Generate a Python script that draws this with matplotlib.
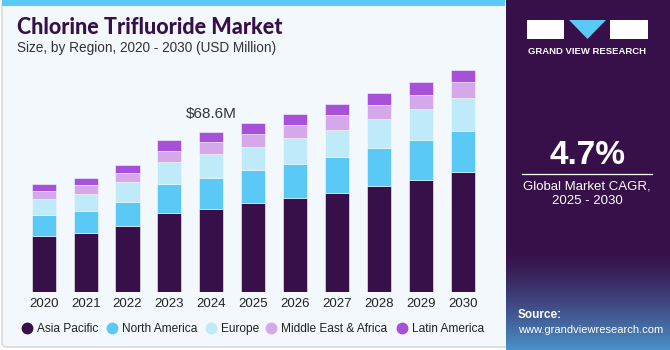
import numpy as np
import matplotlib.pyplot as plt
from matplotlib.patches import FancyBboxPatch, Rectangle, Polygon
from matplotlib.lines import Line2D

years = ['2020', '2021', '2022', '2023', '2024', '2025', '2026', '2027', '2028', '2029', '2030']
asia_pacific = [24.2, 25.6, 28.6, 34.0, 35.9, 38.3, 40.4, 42.7, 45.7, 48.3, 51.7]
north_america = [8.9, 9.4, 10.3, 12.3, 13.3, 14.1, 14.7, 15.4, 16.0, 17.1, 17.6]
europe = [6.9, 7.3, 8.3, 9.7, 9.9, 10.0, 11.1, 11.7, 12.6, 13.4, 14.1]
mea = [3.3, 3.6, 4.0, 4.6, 5.4, 5.6, 5.6, 6.1, 5.9, 5.9, 6.7]
latin_america = [3.1, 3.3, 3.4, 4.6, 4.1, 4.4, 4.6, 4.9, 5.1, 5.3, 5.4]
regions = ['Asia Pacific', 'North America', 'Europe', 'Middle East & Africa', 'Latin America']
colors = ['#37104A', '#5BC9F5', '#BEEAF9', '#D5A8EB', '#A651D7']
label_2024 = '$68.6M'
cagr = '4.7%'

plt.rcParams['font.family'] = ['Liberation Sans', 'DejaVu Sans']

W, H = 670, 350
fig = plt.figure(figsize=(6.7, 3.5), dpi=100)
fig.patch.set_facecolor('white')

def fx(px):
    return px / W

def fy(py):
    return 1 - py / H

# main panel background
fig.patches.append(FancyBboxPatch((fx(2), fy(347)), fx(510), fy(2) - fy(347),
                                  boxstyle='round,pad=0,rounding_size=0.01',
                                  transform=fig.transFigure, facecolor='#F3F8FC',
                                  edgecolor='#D0D4D8', linewidth=1, zorder=-2))
fig.patches.append(Rectangle((fx(2), fy(6)), fx(503), fy(0) - fy(6),
                             transform=fig.transFigure, facecolor='#5BC9F5',
                             edgecolor='none', zorder=-1))

# right panel with gradient
pax = fig.add_axes([fx(506), 0, fx(164), 1])
grad = np.linspace(0, 1, 200)
top = np.array([0x37, 0x10, 0x4A]) / 255
bot = np.array([0x4A, 0x90, 0xC8]) / 255
t = np.clip((grad - 0.72) / 0.28, 0, 1) ** 1.3
img = (top[None, :] * (1 - t[:, None]) + bot[None, :] * t[:, None])[:, None, :]
pax.imshow(img, aspect='auto', extent=[0, 1, 1, 0])
pax.set_xlim(0, 1)
pax.set_ylim(1, 0)
pax.axis('off')

# logo
fig.patches.append(Rectangle((fx(527), fy(39)), fx(37), fy(20) - fy(39),
                             transform=fig.transFigure, facecolor='white', zorder=5))
fig.patches.append(Rectangle((fx(610), fy(39)), fx(38), fy(20) - fy(39),
                             transform=fig.transFigure, facecolor='white', zorder=5))
fig.patches.append(Polygon([(fx(569), fy(20)), (fx(606), fy(20)), (fx(587.5), fy(39))],
                           closed=True, transform=fig.transFigure,
                           facecolor='#5BC9F5', zorder=5))
fig.text(fx(587), fy(51), 'GRAND VIEW RESEARCH', color='white', fontsize=6.8,
         fontweight='bold', ha='center', va='center')

fig.text(fx(587), fy(156), cagr, color='white', fontsize=24, fontweight='bold',
         ha='center', va='center')
fig.add_artist(Line2D([fx(522), fx(652)], [fy(173.5), fy(173.5)], color='white',
                      linewidth=0.9, transform=fig.transFigure))
fig.text(fx(587), fy(186), 'Global Market CAGR,', color='white', fontsize=9.5,
         ha='center', va='center')
fig.text(fx(587), fy(201), '2025 - 2030', color='white', fontsize=9.5,
         ha='center', va='center')
fig.text(fx(518), fy(315), 'Source:', color='white', fontsize=8.5,
         fontweight='bold', ha='left', va='center')
fig.text(fx(518), fy(330), 'www.grandviewresearch.com', color='white', fontsize=8,
         ha='left', va='center')

# titles
fig.text(fx(17), fy(27), 'Chlorine Trifluoride Market', color='#37104A',
         fontsize=15.5, fontweight='black', family=['Lato', 'Liberation Sans'],
         ha='left', va='center')
fig.text(fx(17), fy(48), 'Size, by Region, 2020 - 2030 (USD Million)',
         color='#333333', fontsize=9.8, ha='left', va='center')

# chart
ax = fig.add_axes([fx(18.6), fy(292.3), fx(469.3), fy(59.1) - fy(292.3)])
ax.set_zorder(3)
ax.set_facecolor('none')
x = np.arange(len(years))
series = [asia_pacific, north_america, europe, mea, latin_america]
bottom = np.zeros(len(years))
for vals, c in zip(series, colors):
    ax.bar(x, vals, width=0.575, bottom=bottom, color=c,
           edgecolor='#F3F8FC', linewidth=0.4)
    bottom += np.array(vals)
ax.set_xlim(-0.6, 10.6)
ax.set_ylim(0, 100)
ax.set_xticks(x)
ax.set_xticklabels(years, fontsize=9.5, color='#222222')
ax.tick_params(axis='x', length=0, pad=4)
ax.set_yticks([])
for s in ax.spines.values():
    s.set_visible(False)
ax.text(4, bottom[4] + 7.7, label_2024, fontsize=11, color='#333333',
        ha='center', va='center')

# legend
leg_x = [27.3, 111.7, 210.7, 271, 402.3]
for lx, name, c in zip(leg_x, regions, colors):
    fig.add_artist(Line2D([fx(lx)], [fy(327.5)], marker='o', markersize=7.5,
                          color=c, linestyle='none', transform=fig.transFigure))
    fig.text(fx(lx + 10), fy(327.5), name, fontsize=8.6, color='#222222',
             ha='left', va='center_baseline')

fig.savefig('out.png', dpi=100, facecolor=fig.get_facecolor())
